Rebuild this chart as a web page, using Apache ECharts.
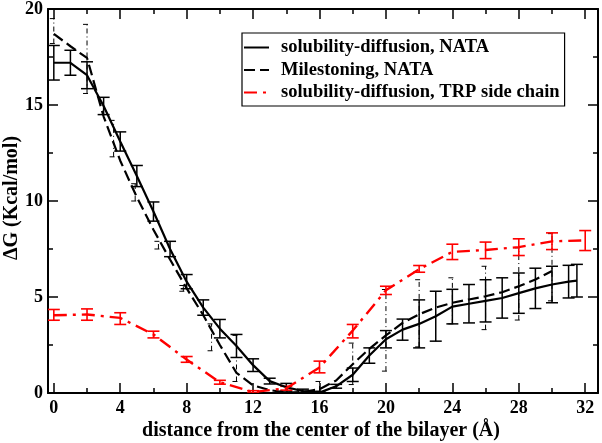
<!DOCTYPE html>
<html><head><meta charset="utf-8">
<script src="https://cdn.jsdelivr.net/npm/echarts@6/dist/echarts.min.js"></script>
<style>html,body{margin:0;padding:0;background:#fff}#c{width:602px;height:443px}</style>
</head><body><div id="c"></div>
<script>
// ---- data ----
const xMajorTicks = [0,4,8,12,16,20,24,28,32];
const xMinorTicks = [2,6,10,14,18,22,26,30];

// solubility-diffusion, NATA
const ndX   = [0,1,2,3,4,5,6,7,8,9,10,11,12,13,14,15,16,17,18,19,20,21,22,23,24,25,26,27,28,29,30,31,31.5];
const ndY   = [17.2,17.2,16.55,14.95,13.1,11.3,9.45,7.5,5.8,4.45,3.35,2.45,1.45,0.62,0.3,0.1,0.02,0.35,0.95,1.95,2.8,3.3,3.6,4.0,4.5,4.65,4.8,4.95,5.2,5.45,5.65,5.8,5.85];
const ndErr = [0.9,0.65,0.7,0.45,0.5,0.55,0.5,0.4,0.37,0.4,0.48,0.6,0.33,0.15,0.2,0.1,0.05,0.1,0.35,0.4,0.45,0.55,1.25,1.3,0.9,1.0,1.1,1.05,1.05,1.05,0.95,0.85,0.85];

// Milestoning, NATA
const msX = [0,1,2,3,4,5,6,7,8,9,10,11,12,13,14,15,16,17,18,19,20,21,22,23,24,25,26,27,28,29,30];
const msY = [18.7,18.06,17.45,14.4,12.1,10.2,8.5,6.95,5.45,4.05,2.5,1.05,0.4,0.15,0.02,0.05,0.2,0.65,1.5,2.3,3.0,3.65,4.1,4.45,4.7,4.87,5.04,5.25,5.56,5.91,6.35];
const msBarX    = [0,2,3.6,4.9,6.3,7.8,9.5,11,16,18,20,22,24,26,28,30];
const msBarLow  = [18.2,15.6,12.3,10.0,7.5,5.3,2.2,0.6,0.1,0.44,1.14,2.4,3.6,3.3,3.8,4.8];
const msBarHigh = [19.5,19.2,14.2,10.9,7.9,5.6,3.6,3.0,0.6,2.6,5.39,5.9,6.0,6.6,7.56,8.3];

// solubility-diffusion, TRP side chain
const trpX    = [0,2,4,6,8,10,12,14,16,18,20,22,24,26,28,30,32];
const trpY    = [4.05,4.09,3.91,3.05,1.74,0.56,0.05,0.25,1.33,3.25,5.35,6.45,7.35,7.45,7.6,7.9,7.95];
const trpLow  = [3.79,3.79,3.57,2.87,1.6,0.46,0.0,0.15,1.05,2.87,5.13,6.29,6.95,7.0,7.16,7.47,7.42];
const trpHigh = [4.35,4.38,4.18,3.22,1.9,0.66,0.12,0.35,1.66,3.57,5.56,6.64,7.75,7.86,8.03,8.34,8.46];

const names = ['solubility-diffusion, NATA','Milestoning, NATA','solubility-diffusion, TRP side chain'];
const xTitle = 'distance from the center of the bilayer (Å)';
const yTitle = 'ΔG (Kcal/mol)';
const FONT = 'Liberation Serif';

function errBarSeries(xs, lows, highs, color, width, dash, cap) {
  return {
    type: 'custom', xAxisIndex: 0, yAxisIndex: 0, silent: true, clip: true, z: 3,
    data: xs.map((x,i)=>[x, lows[i], highs[i]]),
    renderItem: function(params, api) {
      const x = api.value(0);
      const lo = api.coord([x, api.value(1)]);
      const hi = api.coord([x, api.value(2)]);
      const st = {stroke: color, lineWidth: width, lineDash: dash, fill: null};
      return {type:'group', children:[
        {type:'line', shape:{x1:lo[0],y1:lo[1],x2:hi[0],y2:hi[1]}, style: st},
        {type:'line', shape:{x1:lo[0]-cap,y1:lo[1],x2:lo[0]+cap,y2:lo[1]}, style: st},
        {type:'line', shape:{x1:hi[0]-cap,y1:hi[1],x2:hi[0]+cap,y2:hi[1]}, style: st}
      ]};
    }
  };
}

const XMIN = -0.35, XMAX = 32.77;
const axisLineStyle = {color:'#000', width:2};
function xAx(pos, vals, len, showLine, showLabel) {
  return {
    type:'value', position: pos, min: XMIN, max: XMAX,
    axisLine:{show: showLine, onZero:false, lineStyle: axisLineStyle},
    axisTick:{show:true, inside:true, length: len, customValues: vals, lineStyle:{color:'#000', width:1.5}},
    axisLabel:{show: showLabel, customValues: vals, color:'#000', fontFamily: FONT, fontWeight:'bold', fontSize:18, margin:6},
    splitLine:{show:false}
  };
}
function yAx(pos, showLabel) {
  return {
    type:'value', position: pos, min:0, max:20, interval:5,
    axisLine:{show:true, onZero:false, lineStyle: axisLineStyle},
    axisTick:{show:true, inside:true, length:10, lineStyle:{color:'#000', width:1.5}},
    minorTick:{show:true, splitNumber:2, length:5, lineStyle:{color:'#000', width:1.5}},
    axisLabel:{show: showLabel, color:'#000', fontFamily: FONT, fontWeight:'bold', fontSize:18, margin:5},
    splitLine:{show:false}
  };
}

const chart = echarts.init(document.getElementById('c'), null, {renderer:'canvas'});
chart.setOption({
  animation:false,
  backgroundColor:'#fff',
  grid:{left:48, right:4, top:8, bottom:50, containLabel:false},
  xAxis:[
    xAx('bottom', xMajorTicks, 10, true, true),
    xAx('bottom', xMinorTicks, 5, false, false),
    xAx('top', xMajorTicks, 10, true, false),
    xAx('top', xMinorTicks, 5, false, false)
  ],
  yAxis:[ yAx('left', true), yAx('right', false) ],
  legend:{
    orient:'vertical', left:242, top:33,
    padding:[5,5,4,1], itemGap:3.5, itemWidth:25, itemHeight:19,
    backgroundColor:'#fff', borderColor:'#000', borderWidth:1.2, borderRadius:0,
    itemStyle:{opacity:0},
    textStyle:{color:'#000', fontFamily: FONT, fontWeight:'bold', fontSize:18.5, padding:[0,0,0,7]},
    data: names
  },
  graphic:[
    {type:'text', x: 321, y: 431, style:{text: xTitle, fill:'#000', font:'bold 20px "Liberation Serif"', align:'center', verticalAlign:'middle', textAlign:'center', textVerticalAlign:'middle'}},
    {type:'text', rotation: Math.PI/2, x: 12, y: 198, style:{text: yTitle, fill:'#000', font:'bold 20px "Liberation Serif"', align:'center', verticalAlign:'middle', textAlign:'center', textVerticalAlign:'middle'}}
  ],
  series:[
    {name:names[0], type:'line', xAxisIndex:0, yAxisIndex:0, data: ndX.map((x,i)=>[x, ndY[i]]),
     symbol:'none', smooth:false, lineStyle:{color:'#000', width:2.2}, itemStyle:{color:'#000'}, z:4},
    {name:names[1], type:'line', xAxisIndex:0, yAxisIndex:0, data: msX.map((x,i)=>[x, msY[i]]),
     symbol:'none', smooth:false, lineStyle:{color:'#000', width:2.2, type:[11,5]}, itemStyle:{color:'#000'}, z:4},
    {name:names[2], type:'line', xAxisIndex:0, yAxisIndex:0, data: trpX.map((x,i)=>[x, trpY[i]]),
     symbol:'none', smooth:false, lineStyle:{color:'#ff0000', width:2.4, type:[13,6,3,6]}, itemStyle:{color:'#ff0000'}, z:4},
    errBarSeries(ndX, ndX.map((x,i)=>ndY[i]-ndErr[i]), ndX.map((x,i)=>ndY[i]+ndErr[i]), '#000', 1.5, null, 6),
    errBarSeries(msBarX, msBarLow, msBarHigh, '#000', 1, [5,3,1,3], 4),
    errBarSeries(trpX, trpLow, trpHigh, '#ff0000', 1.6, null, 6)
  ]
});
</script></body></html>
